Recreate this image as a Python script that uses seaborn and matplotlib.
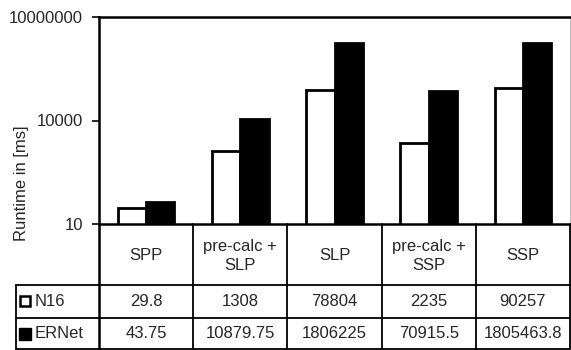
import numpy as np
import pandas as pd
import seaborn as sns
from matplotlib import pyplot as plt
from matplotlib import ticker
from matplotlib.transforms import blended_transform_factory

methods = ["SPP", "pre-calc +\nSLP", "SLP", "pre-calc +\nSSP", "SSP"]
series = ["N16", "ERNet"]
n16 = [29.8, 1308, 78804, 2235, 90257]
ernet = [43.75, 10879.75, 1806225, 70915.5, 1805463.8]
n16_txt = ["29.8", "1308", "78804", "2235", "90257"]
ernet_txt = ["43.75", "10879.75", "1806225", "70915.5", "1805463.8"]
ytick_vals = [10, 10000, 10000000]

df = pd.DataFrame({
    "method": methods * 2,
    "series": ["N16"] * 5 + ["ERNet"] * 5,
    "runtime": n16 + ernet,
})

FS = 12
sns.set_style("white")
plt.rcParams["font.family"] = ["Liberation Sans", "DejaVu Sans"]
plt.rcParams["font.size"] = FS

fig = plt.figure(figsize=(5.71, 3.5), dpi=100)
ax = fig.add_axes([99 / 571, 126 / 350, 471 / 571, 207 / 350])
ax.set_yscale("log")

sns.barplot(data=df, x="method", y="runtime", hue="series", order=methods,
            hue_order=series, palette={"N16": "white", "ERNet": "black"},
            edgecolor="black", linewidth=2, width=0.6, ax=ax, legend=False)

ax.set_ylim(10, 1e7)
ax.set_xlim(-0.5, 4.5)
ax.yaxis.set_major_locator(ticker.FixedLocator(ytick_vals))
ax.yaxis.set_major_formatter(ticker.FixedFormatter([str(v) for v in ytick_vals]))
ax.yaxis.set_minor_locator(ticker.NullLocator())
ax.tick_params(axis="y", left=True, length=5, width=1.2, pad=6.5, labelsize=FS, color="black")
ax.set_xticks([])
ax.set_xlabel("")
ax.set_ylabel("")

for side in ["left", "bottom", "top"]:
    ax.spines[side].set_color("black")
    ax.spines[side].set_linewidth(1.8)
ax.spines["right"].set_color("#bbbbbb")
ax.spines["right"].set_linewidth(0.8)

# data table under the axis
tr = blended_transform_factory(ax.transData, ax.transAxes)
def fy(px):
    return (224 - px) / 207

lw = 1.3
# left spine continues down through the table
ax.plot([0, 0], [0, fy(349)], transform=ax.transAxes, color="black", lw=1.8, clip_on=False)
for xs in np.arange(0.5, 5.0, 1.0):
    ax.plot([xs, xs], [0, fy(349)], transform=tr, color="black", lw=lw, clip_on=False)
x_left = (16 - 99) / 471
for py in [285, 318, 349]:
    ax.plot([x_left, 1], [fy(py), fy(py)], transform=ax.transAxes, color="black", lw=lw, clip_on=False)
ax.plot([x_left, x_left], [fy(285), fy(349)], transform=ax.transAxes, color="black", lw=lw, clip_on=False)

for i, m in enumerate(methods):
    ax.text(i, fy(256), m, transform=tr, ha="center", va="center",
            fontsize=FS, linespacing=1.3)
    ax.text(i, fy(301), n16_txt[i], transform=tr, ha="center", va="center", fontsize=FS)
    ax.text(i, fy(334), ernet_txt[i], transform=tr, ha="center", va="center", fontsize=FS)

# legend keys in the table
ax.plot([(25 - 99) / 471], [fy(301)], transform=ax.transAxes, marker="s", ms=7.5,
        mfc="white", mec="black", mew=1.8, clip_on=False)
ax.plot([(25 - 99) / 471], [fy(334)], transform=ax.transAxes, marker="s", ms=8.5,
        mfc="black", mec="black", clip_on=False)
ax.text((35 - 99) / 471, fy(301), "N16", transform=ax.transAxes, ha="left", va="center", fontsize=FS)
ax.text((35 - 99) / 471, fy(334), "ERNet", transform=ax.transAxes, ha="left", va="center", fontsize=FS)

fig.text(22 / 571, 1 - 183 / 350, "Runtime in [ms]", rotation=90, ha="center", va="center", fontsize=FS)

fig.savefig("out.png", dpi=100, facecolor="white")
